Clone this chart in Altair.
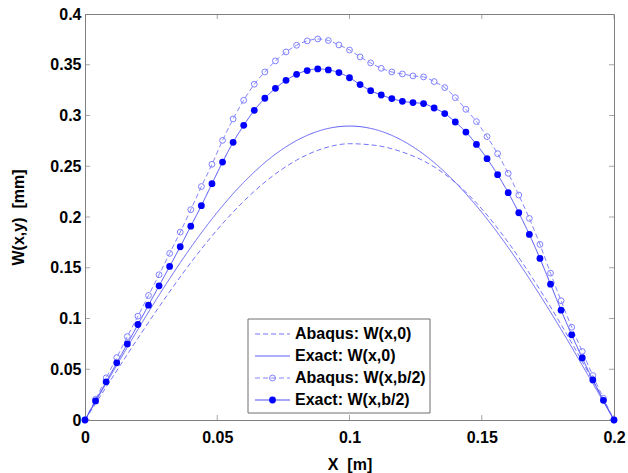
import altair as alt
import pandas as pd

FONT = "Liberation Sans"

# ---- data ----
series_names = ["Abaqus: W(x,0)", "Exact: W(x,0)", "Abaqus: W(x,b/2)", "Exact: W(x,b/2)"]

x_coarse = [0.00, 0.01, 0.02, 0.03, 0.04, 0.05, 0.06, 0.07, 0.08, 0.09, 0.10,
            0.11, 0.12, 0.13, 0.14, 0.15, 0.16, 0.17, 0.18, 0.19, 0.20]
w_abaqus_0 = [0.0, 0.0405, 0.0805, 0.1190, 0.1550, 0.1875, 0.2155, 0.2385, 0.2560, 0.2675, 0.2722,
              0.2705, 0.2640, 0.2525, 0.2340, 0.2080, 0.1750, 0.1365, 0.0940, 0.0482, 0.0]
w_exact_0 = [0.0, 0.0450, 0.0892, 0.1312, 0.1700, 0.2046, 0.2341, 0.2579, 0.2753, 0.2860, 0.2896,
             0.2860, 0.2753, 0.2579, 0.2341, 0.2046, 0.1700, 0.1312, 0.0892, 0.0450, 0.0]

x_fine = [0.000, 0.004, 0.008, 0.012, 0.016, 0.020, 0.024, 0.028, 0.032, 0.036,
          0.040, 0.044, 0.048, 0.052, 0.056, 0.060, 0.064, 0.068, 0.072, 0.076,
          0.080, 0.084, 0.088, 0.092, 0.096, 0.100, 0.104, 0.108, 0.112, 0.116,
          0.120, 0.124, 0.128, 0.132, 0.136, 0.140, 0.144, 0.148, 0.152, 0.156,
          0.160, 0.164, 0.168, 0.172, 0.176, 0.180, 0.184, 0.188, 0.192, 0.196, 0.200]
w_abaqus_b2 = [0.0, 0.0205, 0.0415, 0.0615, 0.0822, 0.1023, 0.1227, 0.1431, 0.1641, 0.1851,
               0.2072, 0.2300, 0.2519, 0.2755, 0.2966, 0.3150, 0.3308, 0.3429, 0.3538, 0.3626,
               0.3692, 0.3735, 0.3754, 0.3739, 0.3695, 0.3645, 0.3577, 0.3518, 0.3465, 0.3429,
               0.3409, 0.3390, 0.3380, 0.3334, 0.3275, 0.3176, 0.3061, 0.2940, 0.2792, 0.2624,
               0.2430, 0.2216, 0.1986, 0.1730, 0.1447, 0.1175, 0.0914, 0.0675, 0.0438, 0.0214, 0.0]
w_exact_b2 = [0.0, 0.0188, 0.0376, 0.0563, 0.0750, 0.0941, 0.1131, 0.1322, 0.1513, 0.1707,
              0.1910, 0.2112, 0.2328, 0.2541, 0.2736, 0.2903, 0.3051, 0.3170, 0.3268, 0.3347,
              0.3406, 0.3443, 0.3459, 0.3449, 0.3423, 0.3372, 0.3305, 0.3245, 0.3202, 0.3167,
              0.3140, 0.3127, 0.3117, 0.3074, 0.3019, 0.2936, 0.2837, 0.2715, 0.2575, 0.2417,
              0.2240, 0.2042, 0.1828, 0.1592, 0.1338, 0.1082, 0.0839, 0.0612, 0.0395, 0.0194, 0.0]

x_ticks = [0, 0.05, 0.1, 0.15, 0.2]
y_ticks = [0, 0.05, 0.1, 0.15, 0.2, 0.25, 0.3, 0.35, 0.4]
x_range = [0, 0.2]
y_range = [0, 0.4]

# ---- tables ----
def frame(xs, ws, name):
    return pd.DataFrame({"x": xs, "w": ws, "series": name})

df_lines = pd.concat([
    frame(x_coarse, w_abaqus_0, series_names[0]),
    frame(x_coarse, w_exact_0, series_names[1]),
    frame(x_fine, w_abaqus_b2, series_names[2]),
    frame(x_fine, w_exact_b2, series_names[3]),
], ignore_index=True)
df_open = frame(x_fine, w_abaqus_b2, series_names[2])
df_fill = frame(x_fine, w_exact_b2, series_names[3])

# inward tick marks on all four sides (MATLAB box style)
df_xt = pd.DataFrame([{"x": t, "w": e} for t in x_ticks for e in y_range])
df_yt = pd.DataFrame([{"x": e, "w": t} for t in y_ticks for e in x_range])

# legend entries (order as in the reference)
df_leg = pd.DataFrame({"series": series_names, "row": list(range(len(series_names)))})

line_colors = ["#7474fa", "#6262f6", "#8585fc", "#4d4df6"]
dashes = [[5, 3], [1, 0], [5, 3], [1, 0]]

color_enc = alt.Color("series:N", scale=alt.Scale(domain=series_names, range=line_colors),
                      legend=None)
dash_enc = alt.StrokeDash("series:N", scale=alt.Scale(domain=series_names, range=dashes),
                          legend=None)

x_main = alt.X("x:Q", scale=alt.Scale(domain=x_range, nice=False),
               axis=alt.Axis(orient="bottom", values=x_ticks, format="~g", title="X\u00a0 [m]",
                             ticks=False, labelPadding=9, labelFlush=False, grid=False,
                             labelOverlap=False, titlePadding=11))
y_main = alt.Y("w:Q", scale=alt.Scale(domain=y_range, nice=False),
               axis=alt.Axis(orient="left", values=y_ticks, format="~g", title="W(x,y)\u00a0 [mm]",
                             ticks=False, labelPadding=4, labelFlush=False, grid=False,
                             labelOverlap=False, titlePadding=23))
x_plain = alt.X("x:Q")
y_plain = alt.Y("w:Q")

lines = alt.Chart(df_lines).mark_line(strokeWidth=1, interpolate="monotone").encode(
    x=x_main, y=y_main, color=color_enc, strokeDash=dash_enc,
)

xticks_layer = alt.Chart(df_xt).mark_tick(orient="vertical", size=10, thickness=1,
                                          color="#808080", clip=True).encode(x=x_plain, y=y_plain)
yticks_layer = alt.Chart(df_yt).mark_tick(orient="horizontal", size=10, thickness=1,
                                          color="#808080", clip=True).encode(x=x_plain, y=y_plain)

open_pts = alt.Chart(df_open).mark_point(shape="circle", filled=False, size=34, strokeWidth=1,
                                         color="#8080ff", opacity=1).encode(x=x_plain, y=y_plain)

fill_pts = alt.Chart(df_fill).mark_circle(size=46, color="#0000ff", opacity=1).encode(
    x=x_plain, y=y_plain)

# ---- legend box, drawn in pixel space inside the plot area ----
LEG_X0, LEG_X1, LEG_Y0, LEG_Y1 = 163, 345, 305, 399
SYM_X0, SYM_X1, TXT_X = 170, 205, 210
ROW0, ROW_STEP = 320, 22

leg_box = alt.Chart(df_leg).transform_filter("datum.row == 0").mark_rect(
    fill="white", stroke="#6e6e6e", strokeWidth=1).encode(
    x=alt.value(LEG_X0), x2=alt.value(LEG_X1), y=alt.value(LEG_Y0), y2=alt.value(LEG_Y1))

leg_base = alt.Chart(df_leg).transform_calculate(py=f"{ROW0} + {ROW_STEP} * datum.row")
py_enc = alt.Y("py:Q", scale=None, axis=None)

leg_lines = leg_base.mark_rule(strokeWidth=1).encode(
    x=alt.value(SYM_X0), x2=alt.value(SYM_X1), y=py_enc, color=color_enc, strokeDash=dash_enc)

leg_open = leg_base.transform_filter(f"datum.series == '{series_names[2]}'").mark_point(
    shape="circle", filled=False, size=34, strokeWidth=1, color="#8080ff", opacity=1).encode(
    x=alt.value((SYM_X0 + SYM_X1) / 2), y=py_enc)

leg_fill = leg_base.transform_filter(f"datum.series == '{series_names[3]}'").mark_circle(
    size=46, color="#0000ff", opacity=1).encode(
    x=alt.value((SYM_X0 + SYM_X1) / 2), y=py_enc)

leg_text = leg_base.mark_text(align="left", baseline="middle", font=FONT, fontSize=16,
                              fontWeight="bold", color="black").encode(
    x=alt.value(TXT_X), y=py_enc, text="series:N")

chart = alt.layer(
    lines, xticks_layer, yticks_layer, open_pts, fill_pts,
    leg_box, leg_lines, leg_open, leg_fill, leg_text,
).properties(
    width=529, height=406,
    padding={"left": 85, "top": 14, "right": 14, "bottom": 53},
    autosize=alt.AutoSizeParams(type="none"),
    background="white",
).configure_axis(
    labelFont=FONT, labelFontSize=16, labelFontWeight="bold", labelColor="black",
    titleFont=FONT, titleFontSize=16, titleFontWeight="bold", titleColor="black",
    domainColor="#808080", domainWidth=1, grid=False,
).configure_view(stroke="#808080", strokeWidth=1)

chart.save("out.html", embed_options={"renderer": "svg", "actions": False})
